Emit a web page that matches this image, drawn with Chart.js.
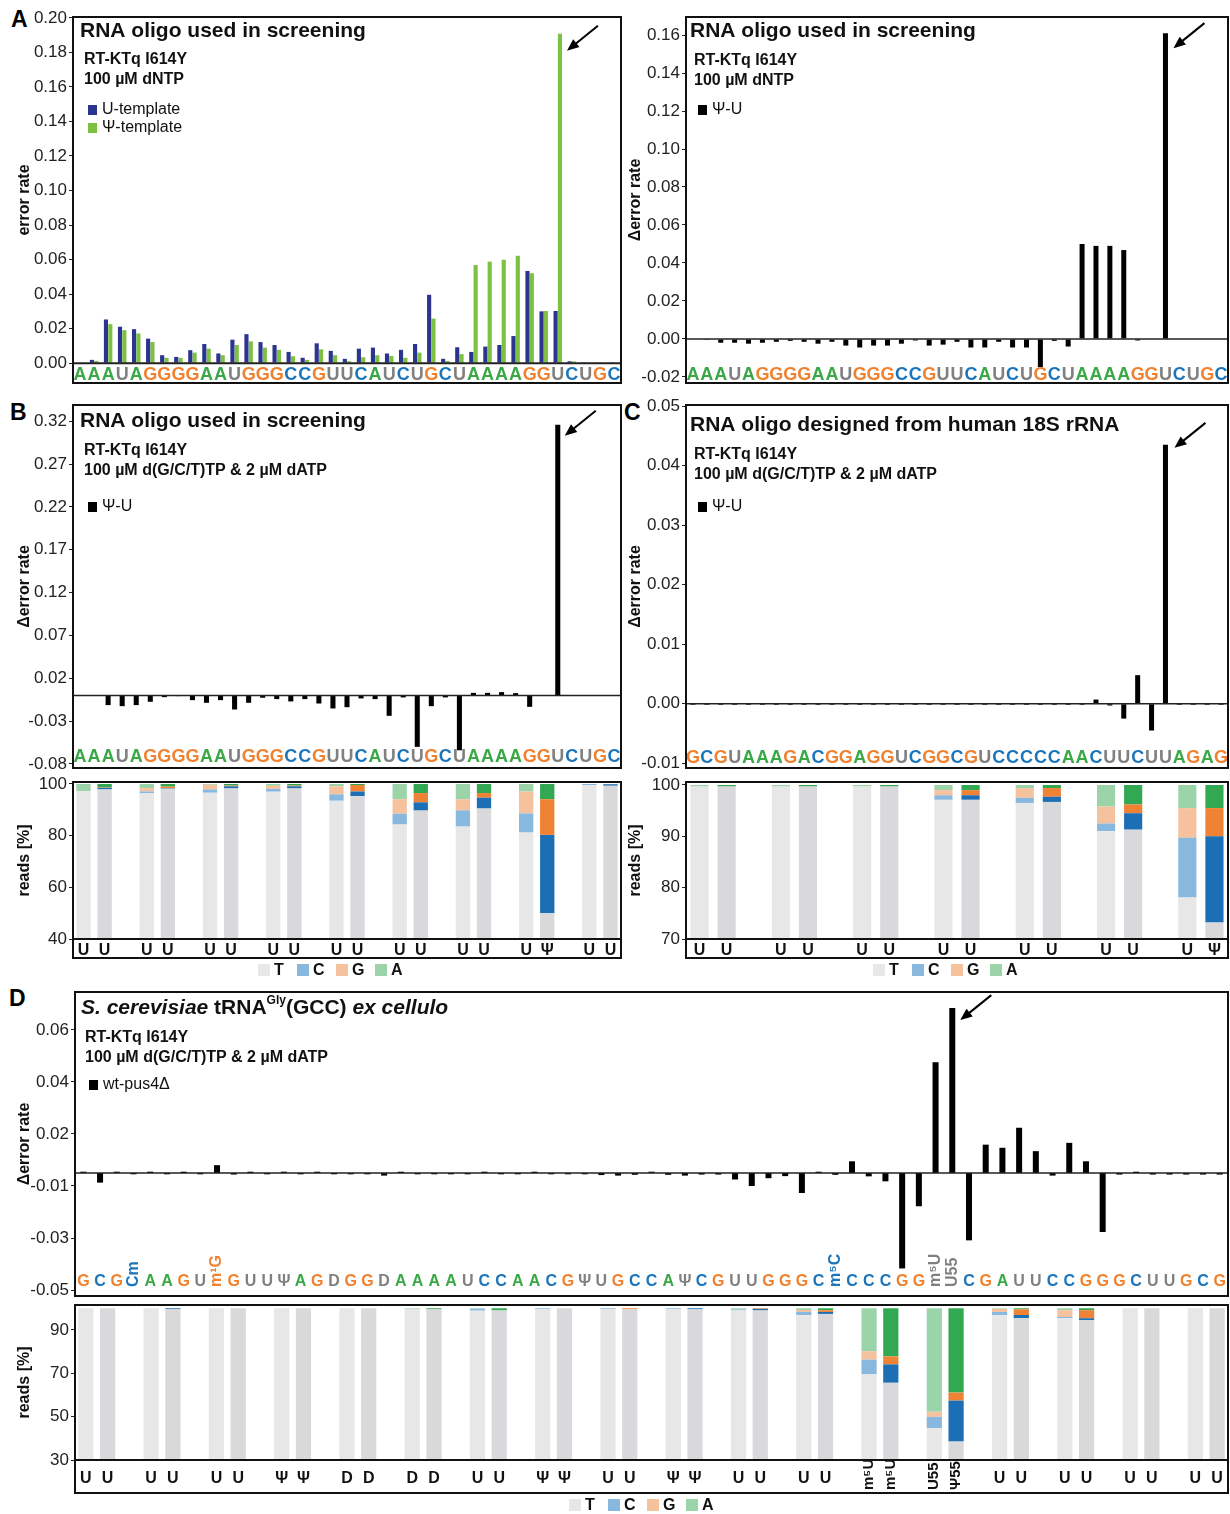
<!DOCTYPE html>
<html>
<head>
<meta charset="utf-8">
<title>RT-KTq I614Y error rates</title>
<script src="https://cdn.jsdelivr.net/npm/chart.js@4.4.1/dist/chart.umd.min.js"></script>
<style>
  html, body { margin: 0; padding: 0; background: #fff; }
  #fig { position: relative; width: 1230px; height: 1514px; overflow: hidden; font-family: "Liberation Sans", Arial, Helvetica, sans-serif; }
  .box { position: absolute; }
  .tag { position: absolute; font-weight: bold; font-size: 23px; line-height: 1; color: #000; }
</style>
</head>
<body>
<div id="fig">
  <div class="tag" style="left:11px;top:8px">A</div>
  <div class="tag" style="left:10px;top:401px">B</div>
  <div class="tag" style="left:624px;top:401px">C</div>
  <div class="tag" style="left:9px;top:987px">D</div>

  <div class="box" style="left:0;top:0;width:622px;height:386px"><canvas id="aLeft"></canvas></div>
  <div class="box" style="left:622px;top:0;width:608px;height:386px"><canvas id="aRight"></canvas></div>
  <div class="box" style="left:0;top:395px;width:622px;height:375px"><canvas id="bDelta"></canvas></div>
  <div class="box" style="left:622px;top:395px;width:608px;height:375px"><canvas id="cDelta"></canvas></div>
  <div class="box" style="left:0;top:775px;width:622px;height:210px"><canvas id="bReads"></canvas></div>
  <div class="box" style="left:622px;top:775px;width:608px;height:210px"><canvas id="cReads"></canvas></div>
  <div class="box" style="left:0;top:985px;width:1230px;height:313px"><canvas id="dDelta"></canvas></div>
  <div class="box" style="left:0;top:1298px;width:1230px;height:216px"><canvas id="dReads"></canvas></div>
</div>
<script>
const FONT = '"Liberation Sans", Arial, Helvetica, sans-serif';
Chart.defaults.font.family = FONT;
Chart.defaults.color = '#222';
Chart.defaults.plugins.legend.display = false;
Chart.defaults.plugins.tooltip.enabled = false;

// ---------- sequences and error rates ----------
const screeningSeq = ['A','A','A','U','A','G','G','G','G','A','A','U','G','G','G','C','C','G','U','U',
  'C','A','U','C','U','G','C','U','A','A','A','A','G','G','U','C','U','G','C'];

const uTemplateRate = [0, 0.0019, 0.0253, 0.0211, 0.0197, 0.0142, 0.0046, 0.0036, 0.0075, 0.0111,
  0.0056, 0.0136, 0.0168, 0.0122, 0.0105, 0.0065, 0.0031, 0.0115, 0.0071, 0.0025,
  0.0084, 0.009, 0.0056, 0.0077, 0.0111, 0.0396, 0.0025, 0.0092, 0.0065, 0.0096,
  0.0105, 0.0157, 0.0534, 0.030, 0.0302, 0.0011, 0.0004, 0.0002, 0.0001];
const psiTemplateRate = [0, 0.0013, 0.0226, 0.0191, 0.0172, 0.0122, 0.0031, 0.0031, 0.0061, 0.0084,
  0.0046, 0.0105, 0.0126, 0.009, 0.0077, 0.004, 0.0019, 0.008, 0.0046, 0.0011,
  0.0034, 0.0046, 0.0042, 0.0031, 0.0061, 0.0258, 0.0013, 0.0052, 0.0568, 0.0588,
  0.0599, 0.0622, 0.0521, 0.0302, 0.1908, 0.001, 0.0004, 0.0002, 0];

const dntpDelta = [0, -0.0005, -0.002, -0.002, -0.0025, -0.002, -0.0015, -0.001, -0.0015, -0.0025,
  -0.0015, -0.0035, -0.0045, -0.0035, -0.0035, -0.0025, -0.0008, -0.0035, -0.003, -0.0015,
  -0.0045, -0.0045, -0.0015, -0.0045, -0.0045, -0.0148, -0.001, -0.004, 0.050, 0.049,
  0.049, 0.0468, -0.0008, 0.0003, 0.161, -0.0003, -0.0003, -0.0003, 0];

const lowDatpDelta = [0, -0.0003, -0.0113, -0.0125, -0.0113, -0.0074, -0.002, -0.0008, -0.0055, -0.0086,
  -0.0055, -0.0164, -0.0086, -0.0027, -0.0043, -0.007, -0.0043, -0.0094, -0.0152, -0.0137,
  -0.0035, -0.0043, -0.0238, -0.0023, -0.060, -0.0125, -0.0023, -0.064, 0.003, 0.003,
  0.0039, 0.0027, -0.0133, 0.0003, 0.316, -0.0005, -0.0005, -0.0005, 0];

const rrnaSeq = ['G','C','G','U','A','A','A','G','A','C','G','G','A','G','G','U','C','G','G','C',
  'G','U','C','C','C','C','C','A','A','C','U','U','C','U','U','A','G','A','G'];
const rrnaDelta = [-0.0002, -0.0002, -0.0002, -0.0002, -0.0002, -0.0002, -0.0002, -0.0002, -0.0002, -0.0002,
  -0.0002, -0.0002, -0.0002, -0.0002, -0.0002, -0.0002, -0.0002, -0.0002, -0.0002, -0.0002,
  -0.0002, -0.0002, -0.0002, -0.0002, -0.0002, -0.0002, -0.0002, -0.0002, -0.0002, 0.0007,
  -0.0003, -0.0025, 0.0048, -0.0045, 0.0435, -0.0002, -0.0002, -0.0002, -0.0002];

const trnaSeq = ['G','C','G','Cm','A','A','G','U','m¹G','G','U','U','Ψ','A','G','D','G','G','D','A',
  'A','A','A','U','C','C','A','A','C','G','Ψ','U','G','C','C','A','Ψ','C','G','U',
  'U','G','G','G','C','m⁵C','C','C','C','G','G','m⁵U','U55','C','G','A','U','U','C','C',
  'G','G','G','C','U','U','G','C','G'];
const trnaDelta = [0.0005, -0.0037, 0.0005, -0.0005, 0.0005, -0.0005, 0.0005, -0.0005, 0.003, -0.0006,
  0.0005, -0.0005, 0.0005, -0.0005, 0.0005, -0.0005, -0.0005, -0.0005, -0.001, 0.0005,
  -0.0005, -0.0005, -0.0005, -0.0005, 0.0005, -0.0005, -0.0005, 0.0005, -0.0005, -0.0005,
  -0.0005, -0.0008, -0.001, -0.0007, 0.0005, -0.0007, -0.001, -0.0006, -0.0006, -0.0025,
  -0.005, -0.002, -0.0012, -0.0077, 0.0005, -0.0007, 0.0045, -0.0013, -0.0032, -0.0367,
  -0.0128, 0.0426, 0.0634, -0.0259, 0.0109, 0.0097, 0.0174, 0.0084, -0.001, 0.0116,
  0.0045, -0.0227, -0.0006, 0.0005, -0.0006, -0.0006, -0.0006, -0.0006, -0.0006];

// ---------- read composition (T/C/G/A %), bars in pairs ----------
const bReadLabels = ['U','U','U','U','U','U','U','U','U','U','U','U','U','U','U','Ψ','U','U'];
const bReadsT = [97.3, 97.9, 96.5, 98.2, 96.6, 98.3, 97.0, 98.3, 93.5, 95.3, 84.3, 89.7, 83.5, 90.5, 81.2, 50.0, 99.6, 99.3];
const bReadsC = [0, 0.6, 0.6, 0.2, 1.3, 0.8, 1.1, 0.8, 2.5, 1.8, 4.2, 3.2, 6.3, 4.2, 7.4, 30.3, 0.4, 0.6];
const bReadsG = [0, 0.2, 1.3, 0.6, 1.8, 0.3, 1.2, 0.3, 3.1, 2.5, 5.6, 3.6, 4.3, 1.8, 8.5, 13.8, 0, 0.1];
const bReadsA = [2.7, 1.3, 1.6, 1.0, 0.3, 0.6, 0.7, 0.6, 0.9, 0.4, 5.9, 3.5, 5.9, 3.5, 2.9, 5.9, 0, 0];

const cReadLabels = ['U','U','U','U','U','U','U','U','U','U','U','U','U','Ψ'];
const cReadsT = [99.7, 99.7, 99.7, 99.7, 99.7, 99.7, 97.1, 97.1, 96.5, 96.7, 91.0, 91.3, 78.1, 73.2];
const cReadsC = [0, 0, 0, 0, 0, 0, 0.9, 0.9, 1.0, 1.0, 1.5, 3.2, 11.6, 16.8];
const cReadsG = [0, 0, 0, 0, 0, 0, 1.0, 1.0, 1.9, 1.7, 3.3, 1.7, 5.8, 5.5];
const cReadsA = [0.3, 0.3, 0.3, 0.3, 0.3, 0.3, 1.0, 1.0, 0.6, 0.6, 4.2, 3.8, 4.5, 4.5];

const dReadLabels = ['U','U','U','U','U','U','Ψ','Ψ','D','D','D','D','U','U','Ψ','Ψ','U','U',
  'Ψ','Ψ','U','U','U','U','m⁵U','m⁵U','U55','Ψ55','U','U','U','U','U','U','U','U'];
const dReadsT = [100, 100, 100, 99.6, 100, 100, 100, 100, 100, 100, 99.7, 99.5, 98.9, 99.0, 99.6, 100, 99.6, 99.5,
  99.6, 99.5, 99.0, 99.0, 96.8, 97.4, 69.5, 65.6, 44.6, 38.5, 96.9, 95.4, 95.4, 94.5, 100, 100, 100, 100];
const dReadsC = [0, 0, 0, 0.4, 0, 0, 0, 0, 0, 0, 0, 0, 0.8, 0, 0.4, 0, 0.4, 0,
  0.4, 0.5, 0.5, 0.7, 1.5, 0.9, 6.8, 8.5, 5.3, 18.9, 1.4, 1.5, 0.6, 0.9, 0, 0, 0, 0];
const dReadsG = [0, 0, 0, 0, 0, 0, 0, 0, 0, 0, 0, 0, 0, 0, 0, 0, 0, 0.5,
  0, 0, 0, 0.3, 0.9, 0.8, 3.9, 3.7, 2.3, 3.7, 1.4, 2.6, 3.1, 3.7, 0, 0, 0, 0];
const dReadsA = [0, 0, 0, 0, 0, 0, 0, 0, 0, 0, 0.3, 0.5, 0.3, 1.0, 0, 0, 0, 0,
  0, 0, 0.5, 0, 0.8, 0.9, 19.8, 22.2, 47.8, 38.9, 0.3, 0.5, 0.9, 0.9, 0, 0, 0, 0];

// ---------- tick labels ----------
const aLeftTicks = [0, 0.02, 0.04, 0.06, 0.08, 0.10, 0.12, 0.14, 0.16, 0.18, 0.20];
const aLeftTickLabels = ['0.00','0.02','0.04','0.06','0.08','0.10','0.12','0.14','0.16','0.18','0.20'];
const aRightTicks = [-0.02, 0, 0.02, 0.04, 0.06, 0.08, 0.10, 0.12, 0.14, 0.16];
const aRightTickLabels = ['-0.02','0.00','0.02','0.04','0.06','0.08','0.10','0.12','0.14','0.16'];
const bTicks = [-0.08, -0.03, 0.02, 0.07, 0.12, 0.17, 0.22, 0.27, 0.32];
const bTickLabels = ['-0.08','-0.03','0.02','0.07','0.12','0.17','0.22','0.27','0.32'];
const cTicks = [-0.01, 0, 0.01, 0.02, 0.03, 0.04, 0.05];
const cTickLabels = ['-0.01','0.00','0.01','0.02','0.03','0.04','0.05'];
const dTicks = [-0.045, -0.025, -0.005, 0.015, 0.035, 0.055];
const dTickLabels = ['-0.05','-0.03','-0.01','0.02','0.04','0.06'];
const bReadTicks = [40, 60, 80, 100];
const bReadTickLabels = ['40','60','80','100'];
const cReadTicks = [70, 80, 90, 100];
const cReadTickLabels = ['70','80','90','100'];
const dReadTicks = [30, 50, 70, 90];
const dReadTickLabels = ['30','50','70','90'];

// ---------- colours ----------
const NUC_COLOR = { A: '#39a845', G: '#f0812e', C: '#1b75bb', U: '#808080', D: '#808080', 'Ψ': '#808080' };
const NUCS = ['T', 'C', 'G', 'A'];
const LIGHT = { T: '#e7e7e7', C: '#88b8de', G: '#f6c19d', A: '#9cd4aa' };
const DARK = { T: '#d9d9db', C: '#1d6fb5', G: '#ef8234', A: '#33a852' };

function letterColor(s) {
  for (const ch of s) if (NUC_COLOR[ch]) return NUC_COLOR[ch];
  return '#808080';
}

// pairs of bars, one empty slot between pairs
function toSlots(arr, gap) {
  const out = [];
  arr.forEach((v, i) => {
    out.push(v);
    if (i % 2 === 1 && i < arr.length - 1) out.push(gap);
  });
  return out;
}

function drawAnnot(ctx, a, an) {
  let x = a.left + an.x;
  const ty = a.top + an.titleDy;
  ctx.textAlign = 'left';
  ctx.textBaseline = 'middle';
  ctx.fillStyle = '#111';
  an.title.forEach(seg => {
    const size = seg.sup ? 12 : 21;
    ctx.font = (seg.italic ? 'italic ' : '') + 'bold ' + size + 'px ' + FONT;
    ctx.fillText(seg.t, x, seg.sup ? ty - 7 : ty);
    x += ctx.measureText(seg.t).width;
  });
  ctx.font = 'bold 16px ' + FONT;
  an.lines.forEach((t, i) => ctx.fillText(t, a.left + an.x + 4, a.top + an.linesDy[i]));
  ctx.font = '16px ' + FONT;
  an.legend.forEach((it, i) => {
    const y = a.top + an.legendDy[i];
    ctx.fillStyle = it.color;
    ctx.fillRect(a.left + an.x + 8, y - 5, 9, 10);
    ctx.fillStyle = '#111';
    ctx.fillText(it.text, a.left + an.x + 22, y);
  });
}

const decor = {
  id: 'decor',
  afterDatasetsDraw(chart, args, o) {
    const ctx = chart.ctx, a = chart.chartArea, xs = chart.scales.x, ys = chart.scales.y;
    ctx.save();
    if (o.zeroWidth) {
      const y0 = ys.getPixelForValue(0);
      ctx.strokeStyle = '#222';
      ctx.lineWidth = o.zeroWidth;
      ctx.beginPath(); ctx.moveTo(a.left, y0); ctx.lineTo(a.right, y0); ctx.stroke();
    }
    if (o.seq) {
      const base = a.bottom - o.seqDy;
      ctx.font = 'bold ' + o.seqSize + 'px ' + FONT;
      o.seq.forEach((s, i) => {
        const x = xs.getPixelForValue(i);
        ctx.fillStyle = letterColor(s);
        if (s.length > 1) {
          ctx.save();
          ctx.translate(x, base + 1);
          ctx.rotate(-Math.PI / 2);
          ctx.textAlign = 'left';
          ctx.textBaseline = 'middle';
          ctx.fillText(s, 0, 0);
          ctx.restore();
        } else {
          ctx.textAlign = 'center';
          ctx.textBaseline = 'alphabetic';
          ctx.fillText(s, x, base);
        }
      });
    }
    if (o.annot) drawAnnot(ctx, a, o.annot);
    if (o.arrow) {
      const el = chart.getDatasetMeta(o.arrow.ds).data[o.arrow.idx];
      const tx = el.x + o.arrow.dx, ty = el.y + o.arrow.dy;
      const sx = tx + 31, sy = ty - 25;
      const ang = Math.atan2(ty - sy, tx - sx);
      ctx.strokeStyle = '#000'; ctx.fillStyle = '#000'; ctx.lineWidth = 2;
      ctx.beginPath(); ctx.moveTo(sx, sy);
      ctx.lineTo(tx - 8 * Math.cos(ang), ty - 8 * Math.sin(ang)); ctx.stroke();
      ctx.beginPath(); ctx.moveTo(tx, ty);
      ctx.lineTo(tx - 12 * Math.cos(ang) + 5 * Math.sin(ang), ty - 12 * Math.sin(ang) - 5 * Math.cos(ang));
      ctx.lineTo(tx - 12 * Math.cos(ang) - 5 * Math.sin(ang), ty - 12 * Math.sin(ang) + 5 * Math.cos(ang));
      ctx.closePath(); ctx.fill();
    }
    if (o.rotated) {
      ctx.font = 'bold 15px ' + FONT;
      ctx.fillStyle = '#111';
      o.rotated.forEach((s, i) => {
        if (s.length < 2) return;
        ctx.save();
        ctx.translate(xs.getPixelForValue(i), xs.bottom - 3);
        ctx.rotate(-Math.PI / 2);
        ctx.textAlign = 'left';
        ctx.textBaseline = 'middle';
        ctx.fillText(s, 0, 0);
        ctx.restore();
      });
    }
    if (o.legendRow) {
      const y = xs.bottom + o.legendRow.dy;
      ctx.font = 'bold 16px ' + FONT;
      ctx.textAlign = 'left';
      ctx.textBaseline = 'middle';
      NUCS.forEach((n, i) => {
        const x = a.left + o.legendRow.x + i * 39;
        ctx.fillStyle = LIGHT[n];
        ctx.fillRect(x, y - 6, 12, 12);
        ctx.fillStyle = '#111';
        ctx.fillText(n, x + 16, y + 1);
      });
    }
    ctx.strokeStyle = '#111';
    ctx.lineWidth = 2;
    let bottom = a.bottom;
    if (o.axisLine) {
      ctx.beginPath(); ctx.moveTo(a.left, a.bottom); ctx.lineTo(a.right, a.bottom); ctx.stroke();
      bottom = xs.bottom;
    }
    ctx.strokeRect(a.left, a.top, a.right - a.left, bottom - a.top);
    ctx.restore();
  }
};

function yAxis(o) {
  return {
    min: o.min, max: o.max, stacked: !!o.stacked,
    afterFit: s => { s.width = o.width; s.paddingTop = 0; s.paddingBottom = 0; },
    afterBuildTicks: s => { s.ticks = o.ticks.map(v => ({ value: v })); },
    ticks: { callback: (v, i) => o.labels[i], font: { size: 17 }, color: '#222', padding: 2 },
    grid: { drawOnChartArea: false, drawTicks: true, tickLength: 4, color: '#222' },
    border: { display: false },
    title: { display: true, text: o.title, color: '#111', font: { size: 16, weight: 'bold' },
      padding: { top: o.titlePad, bottom: 0 } }
  };
}

function deltaChart(id, o) {
  new Chart(document.getElementById(id), {
    type: 'bar',
    data: {
      labels: o.seq,
      datasets: o.series.map(s => ({
        label: s.name, data: s.data, backgroundColor: s.color,
        barPercentage: o.barPct, categoryPercentage: o.catPct
      }))
    },
    options: {
      responsive: true, maintainAspectRatio: false, animation: false, events: [],
      layout: { padding: { left: 0, top: o.padTop, right: o.padRight, bottom: o.padBottom } },
      scales: {
        x: { display: false },
        y: yAxis(o.y)
      },
      plugins: {
        decor: { seq: o.seq, seqSize: o.seqSize, seqDy: o.seqDy, zeroWidth: o.zeroWidth,
          annot: o.annot, arrow: o.arrow }
      }
    },
    plugins: [decor]
  });
}

function readsChart(id, o) {
  const slotLabels = toSlots(o.labels, '');
  const datasets = NUCS.map((n, k) => ({
    label: n,
    data: toSlots(o.reads[k], null),
    backgroundColor: slotLabels.map((_, s) => (s % 3 === 1 ? DARK[n] : LIGHT[n])),
    barPercentage: o.barPct, categoryPercentage: 1, clip: 0
  }));
  new Chart(document.getElementById(id), {
    type: 'bar',
    data: { labels: slotLabels, datasets },
    options: {
      responsive: true, maintainAspectRatio: false, animation: false, events: [],
      layout: { padding: { left: 0, top: 7, right: o.padRight, bottom: o.padBottom } },
      scales: {
        x: {
          stacked: true,
          afterFit: s => { s.height = o.xHeight; s.paddingLeft = 0; s.paddingRight = 0; },
          grid: { display: false, drawTicks: false },
          border: { display: false },
          ticks: { autoSkip: false, maxRotation: 0, minRotation: 0, padding: o.xPad,
            font: { size: 16, weight: 'bold' }, color: '#111',
            callback: (v, i) => (slotLabels[i].length > 1 ? '' : slotLabels[i]) }
        },
        y: yAxis(Object.assign({ stacked: true }, o.y))
      },
      plugins: {
        decor: { axisLine: true, rotated: o.rotate ? slotLabels : null,
          legendRow: { x: o.legendX, dy: 12 } }
      }
    },
    plugins: [decor]
  });
}

const MID = 'µM';

// ---------- panel A ----------
deltaChart('aLeft', {
  seq: screeningSeq, seqSize: 18, seqDy: 3, zeroWidth: 2,
  series: [
    { name: 'U-template', data: uTemplateRate, color: '#2b3590' },
    { name: 'Ψ-template', data: psiTemplateRate, color: '#7cc142' }
  ],
  barPct: 0.95, catPct: 0.62, padTop: 17, padRight: 1, padBottom: 3,
  y: { min: -0.0115, max: 0.2005, ticks: aLeftTicks, labels: aLeftTickLabels, width: 73,
    title: 'error rate', titlePad: 15 },
  annot: { x: 7, titleDy: 14, title: [{ t: 'RNA oligo used in screening' }],
    lines: ['RT-KTq I614Y', '100 ' + MID + ' dNTP'], linesDy: [43, 63],
    legend: [{ color: '#2b3590', text: 'U-template' }, { color: '#7cc142', text: 'Ψ-template' }],
    legendDy: [93, 111] },
  arrow: { ds: 1, idx: 34, dx: 7, dy: 17 }
});

deltaChart('aRight', {
  seq: screeningSeq, seqSize: 18, seqDy: 3, zeroWidth: 1.5,
  series: [{ name: 'Ψ-U', data: dntpDelta, color: '#000' }],
  barPct: 0.36, catPct: 1, padTop: 17, padRight: 2, padBottom: 3,
  y: { min: -0.0232, max: 0.1695, ticks: aRightTicks, labels: aRightTickLabels, width: 64,
    title: 'Δerror rate', titlePad: 4 },
  annot: { x: 4, titleDy: 14, title: [{ t: 'RNA oligo used in screening' }],
    lines: ['RT-KTq I614Y', '100 ' + MID + ' dNTP'], linesDy: [44, 64],
    legend: [{ color: '#000', text: 'Ψ-U' }], legendDy: [93] },
  arrow: { ds: 0, idx: 34, dx: 8, dy: 15 }
});

// ---------- panel B ----------
deltaChart('bDelta', {
  seq: screeningSeq, seqSize: 18, seqDy: 6, zeroWidth: 1.5,
  series: [{ name: 'Ψ-U', data: lowDatpDelta, color: '#000' }],
  barPct: 0.36, catPct: 1, padTop: 10, padRight: 1, padBottom: 2,
  y: { min: -0.0847, max: 0.339, ticks: bTicks, labels: bTickLabels, width: 73,
    title: 'Δerror rate', titlePad: 15 },
  annot: { x: 7, titleDy: 16, title: [{ t: 'RNA oligo used in screening' }],
    lines: ['RT-KTq I614Y', '100 ' + MID + ' d(G/C/T)TP & 2 ' + MID + ' dATP'], linesDy: [46, 66],
    legend: [{ color: '#000', text: 'Ψ-U' }], legendDy: [102] },
  arrow: { ds: 0, idx: 34, dx: 7, dy: 11 }
});

// ---------- panel C ----------
deltaChart('cDelta', {
  seq: rrnaSeq, seqSize: 18, seqDy: 5, zeroWidth: 1.5,
  series: [{ name: 'Ψ-U', data: rrnaDelta, color: '#000' }],
  barPct: 0.36, catPct: 1, padTop: 10, padRight: 2, padBottom: 2,
  y: { min: -0.0108, max: 0.0502, ticks: cTicks, labels: cTickLabels, width: 64,
    title: 'Δerror rate', titlePad: 4 },
  annot: { x: 4, titleDy: 20, title: [{ t: 'RNA oligo designed from human 18S rRNA' }],
    lines: ['RT-KTq I614Y', '100 ' + MID + ' d(G/C/T)TP & 2 ' + MID + ' dATP'], linesDy: [50, 70],
    legend: [{ color: '#000', text: 'Ψ-U' }], legendDy: [102] },
  arrow: { ds: 0, idx: 34, dx: 9, dy: 3 }
});

readsChart('bReads', {
  labels: bReadLabels, reads: [bReadsT, bReadsC, bReadsG, bReadsA],
  barPct: 0.68, padRight: 1, padBottom: 27, xHeight: 19, xPad: 2, legendX: 185,
  y: { min: 40, max: 100.77, ticks: bReadTicks, labels: bReadTickLabels, width: 73,
    title: 'reads [%]', titlePad: 15 }
});

readsChart('cReads', {
  labels: cReadLabels, reads: [cReadsT, cReadsC, cReadsG, cReadsA],
  barPct: 0.67, padRight: 2, padBottom: 27, xHeight: 19, xPad: 2, legendX: 187,
  y: { min: 70, max: 100.58, ticks: cReadTicks, labels: cReadTickLabels, width: 64,
    title: 'reads [%]', titlePad: 4 }
});

// ---------- panel D ----------
deltaChart('dDelta', {
  seq: trnaSeq, seqSize: 16, seqDy: 10, zeroWidth: 1.5,
  series: [{ name: 'wt-pus4Δ', data: trnaDelta, color: '#000' }],
  barPct: 0.36, catPct: 1, padTop: 7, padRight: 2, padBottom: 2,
  y: { min: -0.0473, max: 0.0696, ticks: dTicks, labels: dTickLabels, width: 75,
    title: 'Δerror rate', titlePad: 15 },
  annot: { x: 6, titleDy: 16,
    title: [{ t: 'S. cerevisiae', italic: true }, { t: ' tRNA' }, { t: 'Gly', sup: true },
      { t: '(GCC) ' }, { t: 'ex cellulo', italic: true }],
    lines: ['RT-KTq I614Y', '100 ' + MID + ' d(G/C/T)TP & 2 ' + MID + ' dATP'], linesDy: [46, 66],
    legend: [{ color: '#000', text: 'wt-pus4Δ' }], legendDy: [93] },
  arrow: { ds: 0, idx: 52, dx: 8, dy: 12 }
});

readsChart('dReads', {
  labels: dReadLabels, reads: [dReadsT, dReadsC, dReadsG, dReadsA],
  barPct: 0.7, padRight: 2, padBottom: 21, xHeight: 33, xPad: 9, legendX: 494, rotate: true,
  y: { min: 30, max: 101.5, ticks: dReadTicks, labels: dReadTickLabels, width: 75,
    title: 'reads [%]', titlePad: 15 }
});
</script>
</body>
</html>
